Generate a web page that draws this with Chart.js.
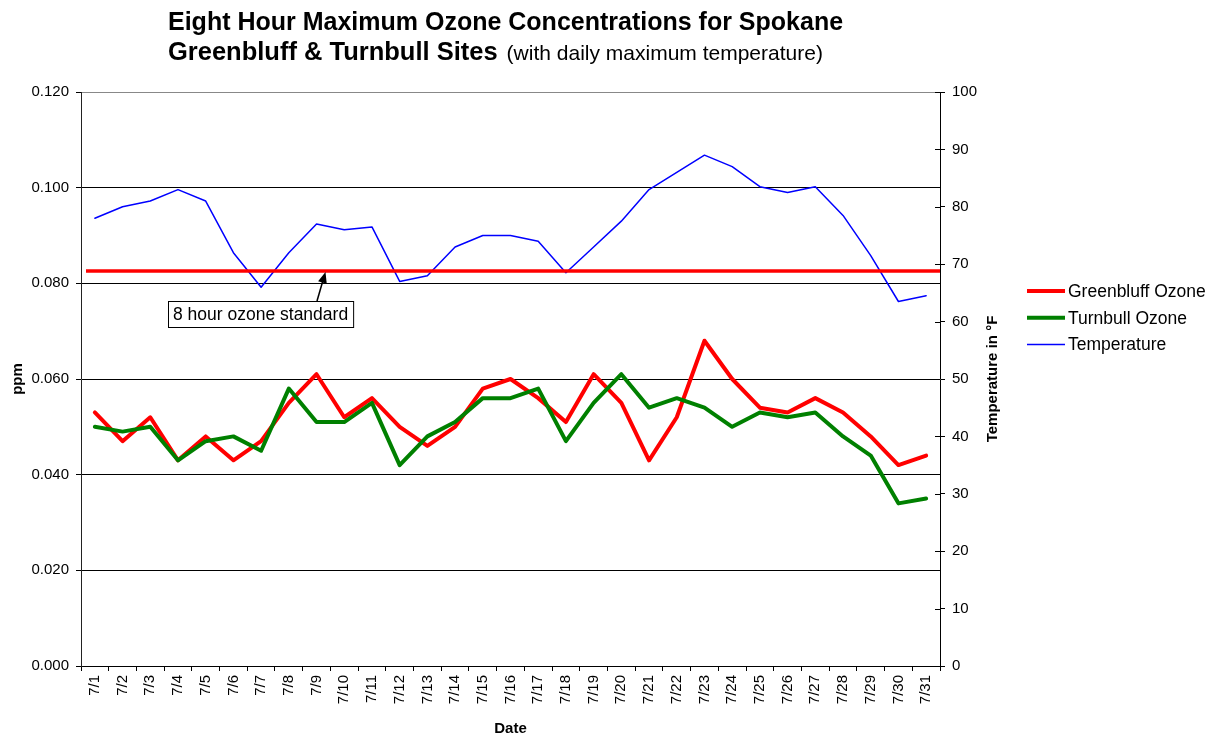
<!DOCTYPE html>
<html>
<head>
<meta charset="utf-8">
<script src="https://cdn.jsdelivr.net/npm/chart.js@4.4.1/dist/chart.umd.min.js"></script>
<style>
  body { margin: 0; background: #fff; }
  canvas { display: block; }
</style>
</head>
<body>
<canvas id="ozone" width="1217" height="739"></canvas>
<script>
const dates = ['7/1', '7/2', '7/3', '7/4', '7/5', '7/6', '7/7', '7/8', '7/9', '7/10',
  '7/11', '7/12', '7/13', '7/14', '7/15', '7/16', '7/17', '7/18', '7/19', '7/20',
  '7/21', '7/22', '7/23', '7/24', '7/25', '7/26', '7/27', '7/28', '7/29', '7/30', '7/31'];

let greenbluff = [0.053, 0.047, 0.052, 0.043, 0.048, 0.043, 0.047, 0.055, 0.061, 0.052,
  0.056, 0.050, 0.046, 0.050, 0.058, 0.060, 0.056, 0.051, 0.061, 0.055,
  0.043, 0.052, 0.068, 0.060, 0.054, 0.053, 0.056, 0.053, 0.048, 0.042, 0.044];
let turnbull = [0.050, 0.049, 0.050, 0.043, 0.047, 0.048, 0.045, 0.058, 0.051, 0.051,
  0.055, 0.042, 0.048, 0.051, 0.056, 0.056, 0.058, 0.047, 0.055, 0.061,
  0.054, 0.056, 0.054, 0.050, 0.053, 0.052, 0.053, 0.048, 0.044, 0.034, 0.035];
let temperature = [78, 80, 81, 83, 81, 72, 66, 72, 77, 76,
  76.5, 67, 68, 73, 75, 75, 74, 68.5, 73, 77.5,
  83, 86, 89, 87, 83.5, 82.5, 83.5, 78.5, 71.5, 63.5, 64.5];

const ozoneStandard = 0.0826;
const standardLabel = '8 hour ozone standard';

const FONT = '"Liberation Sans", Arial, sans-serif';
Chart.defaults.font.family = FONT;
Chart.defaults.color = '#000';

// title, axis titles, legend, standard line + callout
const decorations = {
  id: 'decorations',
  afterDatasetsDraw(chart) {
    const c = chart.ctx;
    const area = chart.chartArea;
    const yStd = chart.scales.y.getPixelForValue(ozoneStandard);
    c.save();
    c.strokeStyle = '#ff0000';
    c.lineWidth = 3.5;
    c.beginPath();
    c.moveTo(area.left + 5, yStd);
    c.lineTo(area.right, yStd);
    c.stroke();

    // callout box
    c.font = '17.5px ' + FONT;
    const tw = c.measureText(standardLabel).width;
    const bx = 168, by = 301, bh = 26;
    c.fillStyle = '#fff';
    c.fillRect(bx, by, tw + 10, bh);
    c.strokeStyle = '#000';
    c.lineWidth = 1;
    c.strokeRect(bx + 0.5, by + 0.5, tw + 10, bh);
    c.fillStyle = '#000';
    c.textBaseline = 'middle';
    c.fillText(standardLabel, bx + 5, by + bh / 2 + 1);

    // arrow
    const x0 = 317, y0 = by, x1 = 325.5, y1 = yStd + 1;
    const ang = Math.atan2(y1 - y0, x1 - x0);
    c.lineWidth = 1.5;
    c.beginPath();
    c.moveTo(x0, y0);
    c.lineTo(x1 - 8 * Math.cos(ang), y1 - 8 * Math.sin(ang));
    c.stroke();
    c.beginPath();
    c.moveTo(x1, y1);
    c.lineTo(x1 - 11 * Math.cos(ang) + 4.5 * Math.sin(ang), y1 - 11 * Math.sin(ang) - 4.5 * Math.cos(ang));
    c.lineTo(x1 - 11 * Math.cos(ang) - 4.5 * Math.sin(ang), y1 - 11 * Math.sin(ang) + 4.5 * Math.cos(ang));
    c.closePath();
    c.fill();
    c.restore();
  },
  afterDraw(chart) {
    const c = chart.ctx;
    const area = chart.chartArea;
    c.save();
    c.fillStyle = '#000';
    c.textBaseline = 'alphabetic';
    c.textAlign = 'left';

    // title
    c.font = 'bold 25px ' + FONT;
    c.fillText('Eight Hour Maximum Ozone Concentrations for Spokane', 168, 30);
    c.font = 'bold 25.5px ' + FONT;
    const part = 'Greenbluff & Turnbull Sites';
    c.fillText(part, 168, 60);
    const w = c.measureText(part).width;
    c.font = '21px ' + FONT;
    c.fillText('(with daily maximum temperature)', 168 + w + 9, 60);

    // axis titles
    const midY = (area.top + area.bottom) / 2;
    c.font = 'bold 15px ' + FONT;
    c.textAlign = 'center';
    c.textBaseline = 'middle';
    c.fillText('Date', (area.left + area.right) / 2, 729);
    c.translate(18, midY);
    c.rotate(-Math.PI / 2);
    c.fillText('ppm', 0, 0);
    c.setTransform(1, 0, 0, 1, 0, 0);
    c.translate(993, midY);
    c.rotate(-Math.PI / 2);
    c.fillText('Temperature in \u00b0F', 0, 0);
    c.setTransform(1, 0, 0, 1, 0, 0);

    // inner half of right-axis ticks
    const y1 = chart.scales.y1;
    c.strokeStyle = '#000';
    c.lineWidth = 1;
    y1.ticks.forEach(t => {
      const py = Math.round(y1.getPixelForValue(t.value)) + 0.5;
      c.beginPath();
      c.moveTo(area.right - 5, py);
      c.lineTo(area.right, py);
      c.stroke();
    });

    // legend
    c.font = '17.5px ' + FONT;
    c.textAlign = 'left';
    c.textBaseline = 'middle';
    chart.data.datasets.forEach((ds, i) => {
      const ly = 291 + i * 26.8;
      c.strokeStyle = ds.borderColor;
      c.lineWidth = ds.borderWidth;
      c.beginPath();
      c.moveTo(1027, ly);
      c.lineTo(1065, ly);
      c.stroke();
      c.fillText(ds.label, 1068, ly + 1);
    });
    c.restore();
  }
};

const tickFont = { size: 15 };

new Chart(document.getElementById('ozone').getContext('2d'), {
  type: 'line',
  data: {
    labels: dates,
    datasets: [{
      label: 'Greenbluff Ozone',
      data: greenbluff,
      borderColor: '#ff0000',
      borderWidth: 4,
      yAxisID: 'y',
      order: 3
    }, {
      label: 'Turnbull Ozone',
      data: turnbull,
      borderColor: '#008000',
      borderWidth: 4,
      yAxisID: 'y',
      order: 2
    }, {
      label: 'Temperature',
      data: temperature,
      borderColor: '#0000ff',
      borderWidth: 1.5,
      yAxisID: 'y1',
      order: 1
    }]
  },
  options: {
    responsive: false,
    animation: false,
    layout: { padding: { top: 92, left: 0, right: 0, bottom: 0 } },
    elements: {
      point: { radius: 0 },
      line: { tension: 0, borderCapStyle: 'round', borderJoinStyle: 'round' }
    },
    scales: {
      x: {
        offset: true,
        grid: { offset: true, drawOnChartArea: false, tickLength: 5, color: '#000' },
        border: { color: '#000' },
        ticks: { autoSkip: false, minRotation: 90, maxRotation: 90, padding: 4, font: tickFont },
        afterFit: s => { s.height = 73; }
      },
      y: {
        position: 'left',
        min: 0,
        max: 0.12,
        ticks: { stepSize: 0.02, padding: 7, font: tickFont, callback: v => v.toFixed(3) },
        grid: { color: c => c.index === 6 ? '#888' : '#000', tickColor: '#000', tickLength: 5 },
        border: { color: '#222' },
        afterFit: s => { s.width = 81; }
      },
      y1: {
        position: 'right',
        min: 0,
        max: 100,
        ticks: { stepSize: 10, padding: 7, font: tickFont },
        grid: { drawOnChartArea: false, tickLength: 5, color: '#000' },
        border: { color: '#000' },
        afterFit: s => { s.width = 277; }
      }
    },
    plugins: {
      legend: { display: false },
      tooltip: { enabled: false }
    }
  },
  plugins: [decorations]
});
</script>
</body>
</html>
